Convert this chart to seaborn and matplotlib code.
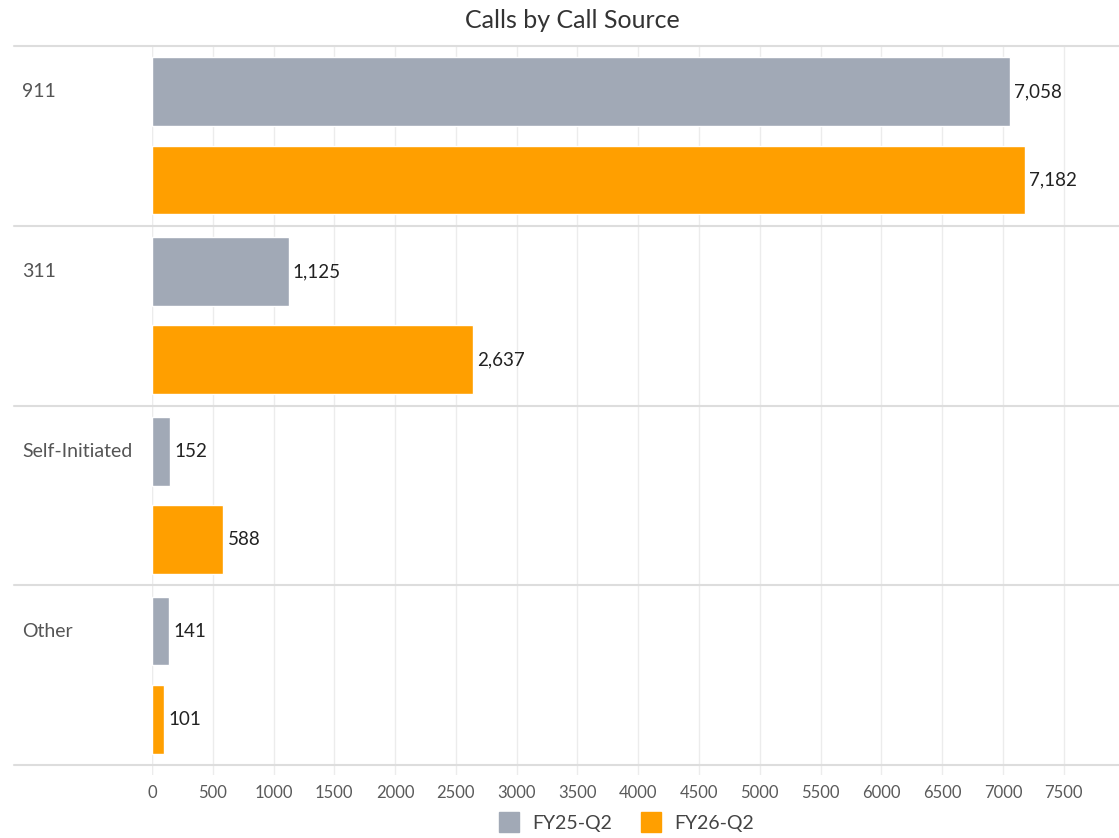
import matplotlib
matplotlib.use("Agg")
import matplotlib.pyplot as plt
import seaborn as sns
import pandas as pd
from matplotlib.lines import Line2D
from matplotlib.transforms import blended_transform_factory

categories = ["911", "311", "Self-Initiated", "Other"]
fy25_q2 = [7058, 1125, 152, 141]
fy26_q2 = [7182, 2637, 588, 101]
series = ["FY25-Q2", "FY26-Q2"]
xticks = list(range(0, 8000, 500))

colors = {"FY25-Q2": "#A1A9B6", "FY26-Q2": "#FF9F00"}

df = pd.DataFrame({
    "source": categories * 2,
    "period": [series[0]] * 4 + [series[1]] * 4,
    "calls": fy25_q2 + fy26_q2,
})

sns.set_theme(style="white")
plt.rcParams["font.family"] = ["Lato", "DejaVu Sans"]

fig = plt.figure(figsize=(11.19, 8.38), dpi=100)
ax = fig.add_axes([152 / 1119, 1 - 775 / 838, 1 - 152 / 1119, (775 - 46) / 838])

W = 0.98
sns.barplot(data=df, y="source", x="calls", hue="period", order=categories,
            hue_order=series, palette=colors, orient="h", width=W, gap=0.22,
            legend=False, ax=ax, saturation=1)

ax.set_xlim(0, 7955)
ax.set_ylim(3.5 + 10 / 180, -0.5)
ax.set_xticks(xticks)
ax.set_xticklabels([str(t) for t in xticks], color="#5a5a5a", fontsize=12)
ax.tick_params(axis="x", length=0, pad=7)
ax.set_yticks([])
ax.set_xlabel("")
ax.set_ylabel("")
for s in ax.spines.values():
    s.set_visible(False)

ax.grid(axis="x", color="#ececec", linewidth=1)
ax.set_axisbelow(True)
ax.axvline(0, color="#d6d6d6", linewidth=1.5, zorder=0.5)

for y in [-0.5, 0.5, 1.5, 2.5, 3.5]:
    ax.axhline(y, xmin=(14 - 152) / (1119 - 152), xmax=1, color="#dddddd",
               linewidth=1.5, clip_on=False, zorder=0.6)

for cont in ax.containers:
    ax.bar_label(cont, labels=[f"{v:,.0f}" for v in cont.datavalues],
                 padding=3, fontsize=13.5, color="#222222")

trans = blended_transform_factory(fig.transFigure, ax.transData)
for i, c in enumerate(categories):
    ax.text(22 / 1119, i - W / 4, c, transform=trans, ha="left", va="center",
            fontsize=14, color="#555555")

fig.text(572 / 1119, 1 - 20 / 838, "Calls by Call Source", ha="center", va="center",
         fontsize=18, color="#333333")

handles = [Line2D([0], [0], marker="s", linestyle="", markersize=14,
                  markerfacecolor=colors[s], markeredgecolor=colors[s]) for s in series]
fig.legend(handles, series, loc="center", bbox_to_anchor=(622 / 1119, 1 - 823 / 838),
           ncol=2, frameon=False, fontsize=14, handletextpad=0.2, columnspacing=1.0,
           labelcolor="#444444")

fig.savefig("out.png", dpi=100)
